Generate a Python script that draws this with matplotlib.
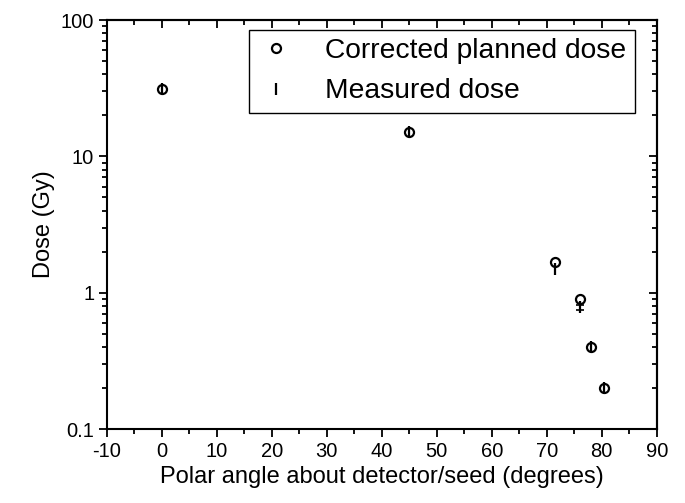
import matplotlib
matplotlib.use("Agg")
import matplotlib.pyplot as plt
from matplotlib.ticker import MultipleLocator, LogLocator, FuncFormatter, NullFormatter

# polar angle (deg) and dose (Gy)
angle = [0, 45, 71.5, 76, 78, 80.5]
planned_dose = [31.0, 15.0, 1.69, 0.90, 0.40, 0.20]
measured_dose = [31.0, 15.0, 1.50, 0.78, 0.40, 0.20]
measured_err = [0, 0, 0, 0.035, 0, 0]

plt.rcParams['font.family'] = ['Liberation Sans', 'DejaVu Sans']
plt.rcParams['axes.unicode_minus'] = False

fig = plt.figure(figsize=(6.85, 5.03), dpi=100)
ax = fig.add_axes([0.1558, 0.1471, 0.8029, 0.8131])

ax.plot(angle, planned_dose, 'o', ms=6.5, mfc='white', mec='black', mew=1.6,
        label='Corrected planned dose', zorder=3)
ax.plot(angle, measured_dose, '|', ms=8, mew=1.6, color='black',
        label='Measured dose', zorder=4)
# error bars only where there is one
eb = [(a, m, e) for a, m, e in zip(angle, measured_dose, measured_err) if e > 0]
ax.errorbar([p[0] for p in eb], [p[1] for p in eb], yerr=[p[2] for p in eb],
            fmt='none', ecolor='black', elinewidth=1.2, capsize=3, capthick=1.2, zorder=4)

ax.set_yscale('log')
ax.set_xlim(-10, 90)
ax.set_ylim(0.1, 100)
ax.xaxis.set_major_locator(MultipleLocator(10))
ax.xaxis.set_minor_locator(MultipleLocator(5))
ax.yaxis.set_major_locator(LogLocator(base=10))
ax.yaxis.set_minor_locator(LogLocator(base=10, subs=range(2, 10)))
ax.yaxis.set_major_formatter(FuncFormatter(lambda v, p: '%g' % v))
ax.yaxis.set_minor_formatter(NullFormatter())

ax.tick_params(which='major', direction='out', length=6, width=1.3, labelsize=14.5, pad=3)
ax.tick_params(which='minor', direction='out', length=3.5, width=1.3)
for s in ax.spines.values():
    s.set_linewidth(1.5)

# inward ticks on top and right
top = ax.secondary_xaxis('top')
top.xaxis.set_major_locator(MultipleLocator(10))
top.xaxis.set_minor_locator(MultipleLocator(5))
top.tick_params(which='major', direction='in', length=6, width=1.3, labeltop=False)
top.tick_params(which='minor', direction='in', length=3.5, width=1.3)
top.spines['top'].set_linewidth(1.5)

right = ax.secondary_yaxis('right')
right.yaxis.set_major_locator(LogLocator(base=10))
right.yaxis.set_minor_locator(LogLocator(base=10, subs=range(2, 10)))
right.yaxis.set_minor_formatter(NullFormatter())
right.tick_params(which='major', direction='in', length=6, width=1.3, labelright=False)
right.tick_params(which='minor', direction='in', length=3.5, width=1.3)
right.spines['right'].set_linewidth(1.5)

ax.set_xlabel('Polar angle about detector/seed (degrees)', fontsize=17, labelpad=4)
ax.set_ylabel('Dose (Gy)', fontsize=17, labelpad=4)

leg = ax.legend(loc='upper right', bbox_to_anchor=(0.96, 0.976), fontsize=20.3,
                frameon=True, fancybox=False, edgecolor='black', framealpha=1,
                borderpad=0.3, labelspacing=0.5, handletextpad=1.1, handlelength=1.3,
                borderaxespad=0)
leg.get_frame().set_linewidth(1.0)

fig.savefig('out.png', dpi=100)
